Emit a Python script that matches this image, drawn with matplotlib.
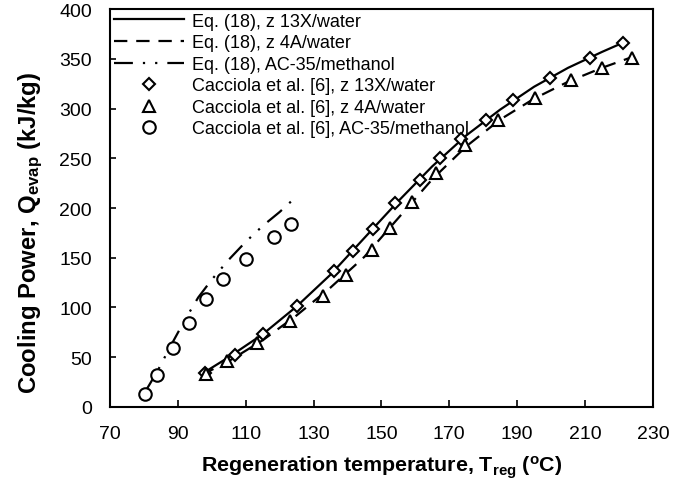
import matplotlib
matplotlib.use("Agg")
import matplotlib.pyplot as plt

plt.rcParams["font.family"] = ["Liberation Sans", "DejaVu Sans"]
plt.rcParams["mathtext.default"] = "regular"

# Cacciola et al. [6] data
exp_13x_T = [98, 106.8, 115.2, 125.2, 136, 141.7, 147.4, 154, 161.3, 167.2, 173.4, 180.8, 188.8, 199.6, 211.4, 221.2]
exp_13x_Q = [34, 52, 73, 101, 137, 157, 179, 205, 228, 250, 269, 289, 309, 331, 351, 366]

exp_4a_T = [98.2, 104.4, 113.2, 123, 132.7, 139.5, 147.1, 152.6, 158.9, 166, 174.6, 184.4, 195.2, 206, 215, 224]
exp_4a_Q = [33, 46.5, 64, 86, 112, 133, 158, 180, 206, 235, 263, 289, 311, 329, 341, 351]

exp_ac_T = [80.3, 83.9, 88.7, 93.3, 98.2, 103.4, 110.1, 118.3, 123.3]
exp_ac_Q = [13, 32.5, 59, 84.4, 108.5, 128.6, 148.7, 171.2, 183.9]

# Eq. (18) curves
eq_13x_T = [97, 105, 115, 125, 135, 145, 155, 165, 175, 185, 195, 205, 215, 221]
eq_13x_Q = [33, 50, 73, 101, 133, 170, 207, 242, 273, 299, 322, 341, 357, 366]

eq_4a_T = [97, 105, 115, 125, 135, 145, 155, 165, 175, 185, 195, 205, 215, 224]
eq_4a_Q = [32, 46, 67, 92, 120, 151, 190, 229, 262, 289, 310, 327, 341, 352]

eq_ac_T = [80, 84, 88, 92, 96, 100, 105, 110, 115, 120, 123.5]
eq_ac_Q = [13, 36, 62, 87, 110, 128, 148, 166, 182, 196, 207]

fig = plt.figure(figsize=(6.96, 4.85), dpi=100)
ax = fig.add_axes([0.158, 0.159, 0.78, 0.82])

ax.plot(eq_13x_T, eq_13x_Q, color="black", lw=1.6, ls="-", label="Eq. (18), z 13X/water")
ax.plot(eq_4a_T, eq_4a_Q, color="black", lw=1.6, ls=(0, (6, 4)), label="Eq. (18), z 4A/water")
ax.plot(eq_ac_T, eq_ac_Q, color="black", lw=1.6, ls=(0, (8.5, 4.5, 1, 4.5, 1, 4.5)),
        label="Eq. (18), AC-35/methanol")

ax.plot(exp_13x_T, exp_13x_Q, ls="none", marker="D", ms=6, mfc="white", mec="black", mew=1.5,
        label="Cacciola et al. [6], z 13X/water")
ax.plot(exp_4a_T, exp_4a_Q, ls="none", marker="^", ms=8.5, mfc="white", mec="black", mew=1.5,
        label="Cacciola et al. [6], z 4A/water")
ax.plot(exp_ac_T, exp_ac_Q, ls="none", marker="o", ms=9, mfc="white", mec="black", mew=1.5,
        label="Cacciola et al. [6], AC-35/methanol")

ax.set_xlim(70, 230)
ax.set_ylim(0, 400)
ax.set_xticks(range(70, 231, 20))
ax.set_yticks(range(0, 401, 50))
ax.tick_params(direction="in", length=5, width=1.2, labelsize=14, pad=13)
ax.tick_params(axis="y", length=4, pad=13)
for s in ax.spines.values():
    s.set_linewidth(1.5)

ax.set_xlabel("Regeneration temperature, T$_{reg}$ ($^{o}$C)", fontsize=15.4, fontweight="bold", labelpad=8)
ax.set_ylabel("Cooling Power, Q$_{evap}$ (kJ/kg)", fontsize=17.2, fontweight="bold")
ax.yaxis.set_label_coords(-0.12, 0.44)

ax.legend(loc="upper left", frameon=False, fontsize=13, handlelength=3.9, handletextpad=0.45,
          labelspacing=0.25, borderpad=0, borderaxespad=0.2, numpoints=1)

fig.savefig("out.png", dpi=100)
